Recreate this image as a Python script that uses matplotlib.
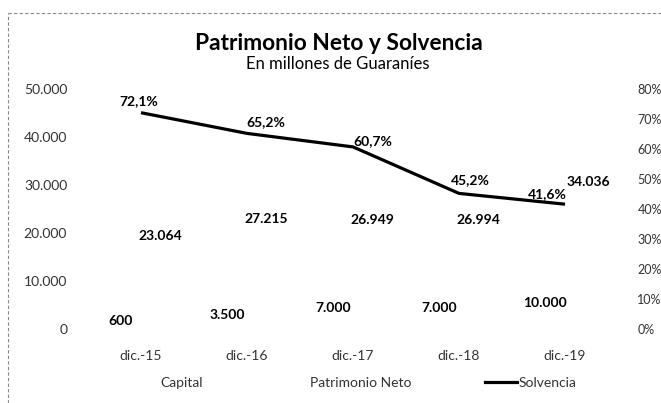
import matplotlib
matplotlib.use('Agg')
import matplotlib.pyplot as plt
from matplotlib.lines import Line2D
from matplotlib.patches import Patch
import numpy as np

plt.rcParams['font.family'] = ['Lato', 'DejaVu Sans']

categories = ['dic.-15', 'dic.-16', 'dic.-17', 'dic.-18', 'dic.-19']
capital = [600, 3500, 7000, 7000, 10000]
patrimonio = [23064, 27215, 26949, 26994, 34036]
solvencia = [72.1, 65.2, 60.7, 45.2, 41.6]

left_ticks = [0, 10000, 20000, 30000, 40000, 50000]
right_ticks = [0, 10, 20, 30, 40, 50, 60, 70, 80]

# label offsets in pixels (style only)
pct_offsets = [(-2, 12), (19, 11), (20, 6), (11, 13), (-18, 10)]

W, H = 661, 403
fig = plt.figure(figsize=(W / 100, H / 100), dpi=100)
ax = fig.add_axes([88 / W, 74 / H, 530 / W, 240 / H])
ax2 = ax.twinx()

x = np.arange(len(categories))
w = 0.37
ax.bar(x - 0.185, capital, w, color='white', label='Capital')
ax.bar(x + 0.185, patrimonio, w, color='white', label='Patrimonio Neto')
ax2.plot(x, np.array(solvencia) / 100, color='black', lw=2.3,
         solid_capstyle='butt', label='Solvencia')

ax.set_xlim(-0.5, len(categories) - 0.5)
ax.set_ylim(0, 50000)
ax2.set_ylim(0, 0.8)

def fmt_thousands(v):
    return f'{int(v):,}'.replace(',', '.')

ax.set_yticks(left_ticks)
ax.set_yticklabels([fmt_thousands(v) for v in left_ticks])
ax2.set_yticks([t / 100 for t in right_ticks])
ax2.set_yticklabels([f'{t}%' for t in right_ticks])
ax.set_xticks(x)
ax.set_xticklabels(categories)

tick_color = '#333333'
for a in (ax, ax2):
    for s in a.spines.values():
        s.set_visible(False)
    a.tick_params(length=0, colors=tick_color, labelsize=10)
ax.tick_params(axis='y', pad=15)
ax2.tick_params(axis='y', pad=14, labelsize=9)
ax.tick_params(axis='x', pad=15)

lab_kw = dict(ha='center', va='center', fontsize=10, fontweight='bold', color='black')
for i, v in enumerate(capital):
    ax.annotate(fmt_thousands(v), (x[i] - 0.19, 1500 + 0.4 * v), **lab_kw)
for i, v in enumerate(patrimonio):
    dx, dy = (0, 0)
    if i == len(patrimonio) - 1:
        dx, dy = 4, 10
    ax.annotate(fmt_thousands(v), (x[i] + 0.18, 0.84 * v), xytext=(dx, dy),
                textcoords='offset pixels', **lab_kw)
for i, v in enumerate(solvencia):
    ax2.annotate(f'{v:.1f}%'.replace('.', ','), (x[i], v / 100),
                 xytext=pct_offsets[i], textcoords='offset pixels', **lab_kw)

fig.text(339 / W, 1 - 44 / H, 'Patrimonio Neto y Solvencia', ha='center', va='center',
         fontsize=16.4, fontweight='bold', color='black')
fig.text(338 / W, 1 - 64 / H, 'En millones de Guaraníes', ha='center', va='center',
         fontsize=12, color='black')

handles = [Patch(facecolor='white', edgecolor='none', label='Capital'),
           Patch(facecolor='white', edgecolor='none', label='Patrimonio Neto'),
           Line2D([], [], color='black', lw=2.3, label='Solvencia')]
leg = fig.legend(handles=handles, loc='center', bbox_to_anchor=(352 / W, 20 / H), ncol=3,
                 frameon=False, fontsize=10, handlelength=2.3, handletextpad=0.1,
                 columnspacing=5.3, labelcolor=tick_color)

fig.add_artist(Line2D([8 / W, 8 / W], [0, 1 - 13 / H], transform=fig.transFigure,
                      ls=(0, (3, 2)), color='#888888', lw=0.8))
fig.add_artist(Line2D([8 / W, 1], [1 - 13 / H, 1 - 13 / H], transform=fig.transFigure,
                      ls=(0, (3, 2)), color='#888888', lw=0.8))

fig.savefig('out.png', dpi=100, facecolor='white')
